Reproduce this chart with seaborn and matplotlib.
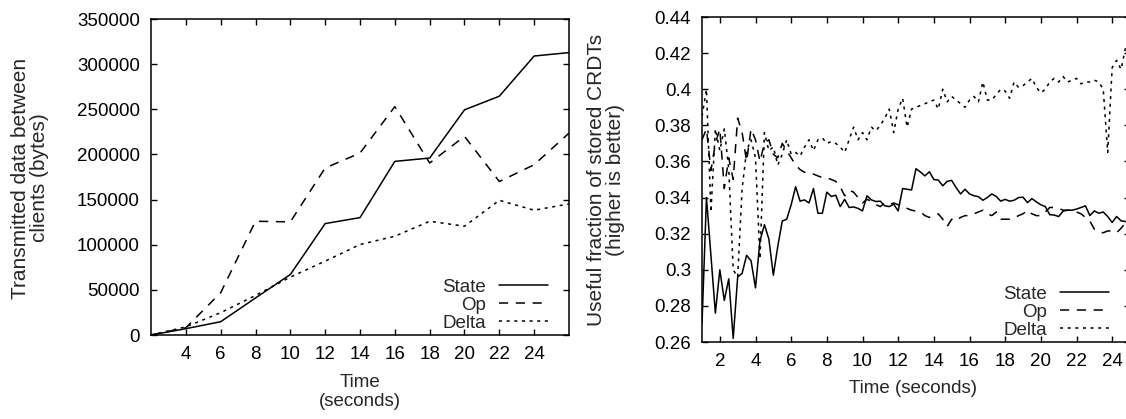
import numpy as np
import pandas as pd
import seaborn as sns
import matplotlib
matplotlib.use('Agg')
import matplotlib.pyplot as plt
from matplotlib.ticker import FormatStrFormatter

''' left chart: transmitted bytes '''
t_left = [2, 4, 6, 8, 10, 12, 14, 16, 18, 20, 22, 24, 26]
state_bytes = [0, 7000, 14700, 41000, 67000, 123400, 130000, 192300, 196000, 249400, 264500, 309000, 312800]
op_bytes = [0, 8000, 46800, 126000, 125300, 185000, 201500, 253000, 190500, 220000, 170000, 188600, 223600]
delta_bytes = [0, 9000, 24700, 43800, 64100, 81800, 100200, 109400, 126000, 120500, 149200, 138200, 145200]

''' right chart: useful fraction, one sample every 0.25 s '''
t_right = np.arange(1, 25.001, 0.25)
state_frac = [0.270, 0.340, 0.308, 0.276, 0.300, 0.283, 0.295, 0.262, 0.296, 0.298,
              0.308, 0.305, 0.290, 0.316, 0.325, 0.317, 0.297, 0.313, 0.327, 0.328,
              0.336, 0.346, 0.338, 0.3387, 0.337, 0.345, 0.3313, 0.3313, 0.343, 0.3406,
              0.3413, 0.335, 0.339, 0.3345, 0.3348, 0.334, 0.3326, 0.341, 0.3387, 0.3378,
              0.338, 0.3354, 0.335, 0.3363, 0.3326, 0.345, 0.3446, 0.3442, 0.356, 0.3541,
              0.352, 0.3543, 0.350, 0.3497, 0.3465, 0.349, 0.3495, 0.3455, 0.342, 0.3446,
              0.342, 0.341, 0.3405, 0.3385, 0.340, 0.342, 0.3406, 0.338, 0.339, 0.338,
              0.3385, 0.340, 0.3402, 0.3372, 0.3394, 0.3376, 0.336, 0.335, 0.3305, 0.3303,
              0.3295, 0.3325, 0.333, 0.333, 0.3336, 0.3345, 0.3354, 0.330, 0.3326, 0.3313,
              0.332, 0.3295, 0.3262, 0.3295, 0.3271, 0.3267, 0.326]
op_frac = [0.372, 0.378, 0.355, 0.370, 0.378, 0.345, 0.362, 0.350, 0.384, 0.376,
           0.360, 0.378, 0.372, 0.360, 0.370, 0.372, 0.364, 0.362, 0.370, 0.366,
           0.362, 0.358, 0.3555, 0.354, 0.354, 0.353, 0.352, 0.351, 0.351, 0.350,
           0.349, 0.346, 0.341, 0.344, 0.343, 0.340, 0.337, 0.339, 0.338, 0.336,
           0.335, 0.337, 0.336, 0.337, 0.336, 0.335, 0.334, 0.333, 0.3325, 0.332,
           0.330, 0.329, 0.330, 0.331, 0.328, 0.324, 0.328, 0.327, 0.329, 0.330,
           0.330, 0.331, 0.332, 0.333, 0.331, 0.330, 0.332, 0.328, 0.328, 0.328,
           0.3285, 0.330, 0.331, 0.333, 0.331, 0.330, 0.330, 0.332, 0.3345, 0.3345,
           0.334, 0.333, 0.333, 0.333, 0.332, 0.331, 0.329, 0.327, 0.3225, 0.321,
           0.3205, 0.3215, 0.3215, 0.3205, 0.323, 0.326, 0.327]
delta_frac = [0.385, 0.400, 0.332, 0.378, 0.366, 0.378, 0.356, 0.300, 0.296, 0.345,
              0.366, 0.372, 0.362, 0.306, 0.376, 0.366, 0.368, 0.358, 0.364, 0.372,
              0.364, 0.365, 0.363, 0.368, 0.372, 0.366, 0.372, 0.373, 0.370, 0.371,
              0.370, 0.368, 0.365, 0.372, 0.379, 0.372, 0.376, 0.372, 0.379, 0.377,
              0.380, 0.384, 0.389, 0.376, 0.389, 0.395, 0.379, 0.389, 0.390, 0.391,
              0.392, 0.393, 0.394, 0.389, 0.400, 0.393, 0.396, 0.394, 0.392, 0.390,
              0.394, 0.396, 0.393, 0.404, 0.394, 0.394, 0.397, 0.400, 0.399, 0.395,
              0.404, 0.401, 0.402, 0.404, 0.406, 0.401, 0.398, 0.400, 0.404, 0.406,
              0.404, 0.407, 0.404, 0.405, 0.406, 0.403, 0.404, 0.404, 0.405, 0.404,
              0.400, 0.365, 0.412, 0.416, 0.411, 0.423, 0.425]

labels = ['State', 'Op', 'Delta']
styles = {'State': '-', 'Op': (0, (6, 5)), 'Delta': (0, (2, 3))}

sns.set_theme(style='ticks')
plt.rcParams['font.family'] = ['Liberation Sans', 'DejaVu Sans']
plt.rcParams['font.size'] = 13.5

W, H = 1126, 419
fig = plt.figure(figsize=(W / 100, H / 100), dpi=100)
ax1 = fig.add_axes([151 / W, (H - 335) / H, 418 / W, 316 / H])
ax2 = fig.add_axes([702 / W, (H - 342) / H, 428 / W, 325 / H])

for name, vals in zip(labels, [state_bytes, op_bytes, delta_bytes]):
    sns.lineplot(x=t_left, y=vals, ax=ax1, color='black', linewidth=1.1,
                 linestyle=styles[name], label=name)
for name, vals in zip(labels, [state_frac, op_frac, delta_frac]):
    sns.lineplot(x=t_right, y=vals, ax=ax2, color='black', linewidth=1.1,
                 linestyle=styles[name], label=name)

ax1.set_xlim(2, 26)
ax1.set_ylim(0, 350000)
ax1.set_xticks(range(4, 25, 2))
ax1.set_yticks(range(0, 350001, 50000))
ax1.ticklabel_format(axis='y', style='plain', useOffset=False)

ax2.set_xlim(1, 25)
ax2.set_ylim(0.26, 0.44)
ax2.set_xticks(range(2, 25, 2))
ax2.set_yticks(np.arange(0.26, 0.4401, 0.02))
ax2.yaxis.set_major_formatter(FormatStrFormatter('%g'))

for ax in (ax1, ax2):
    ax.set_xlabel('')
    ax.set_ylabel('')
    for sp in ax.spines.values():
        sp.set_visible(True)
        sp.set_linewidth(1.1)
        sp.set_color('black')
    ax.tick_params(direction='in', top=True, right=True, length=4, width=1,
                   labelsize=13.5, colors='black', pad=8)

leg_kw = dict(frameon=False, markerfirst=False, loc='lower right', borderpad=0,
              borderaxespad=0, handlelength=2.6, handletextpad=0.7,
              labelspacing=0.05, fontsize=13.5, bbox_transform=fig.transFigure)
ax1.legend(bbox_to_anchor=(548 / W, (H - 332) / H), **leg_kw)
ax2.legend(bbox_to_anchor=(1109 / W, (H - 339) / H), **leg_kw)

fig.text(30 / W, (H - 178) / H, 'Transmitted data between\nclients (bytes)',
         rotation=90, ha='center', va='center', fontsize=15, linespacing=0.95)
fig.text(360 / W, (H - 392) / H, 'Time\n(seconds)', ha='center', va='center',
         fontsize=13.5, linespacing=1.2)
fig.text(606 / W, (H - 180) / H, 'Useful fraction of stored CRDTs\n(higher is better)',
         rotation=90, ha='center', va='center', fontsize=15, linespacing=0.95)
fig.text(913 / W, (H - 388) / H, 'Time (seconds)', ha='center', va='center',
         fontsize=13.5)

fig.savefig('out.png', dpi=100)
